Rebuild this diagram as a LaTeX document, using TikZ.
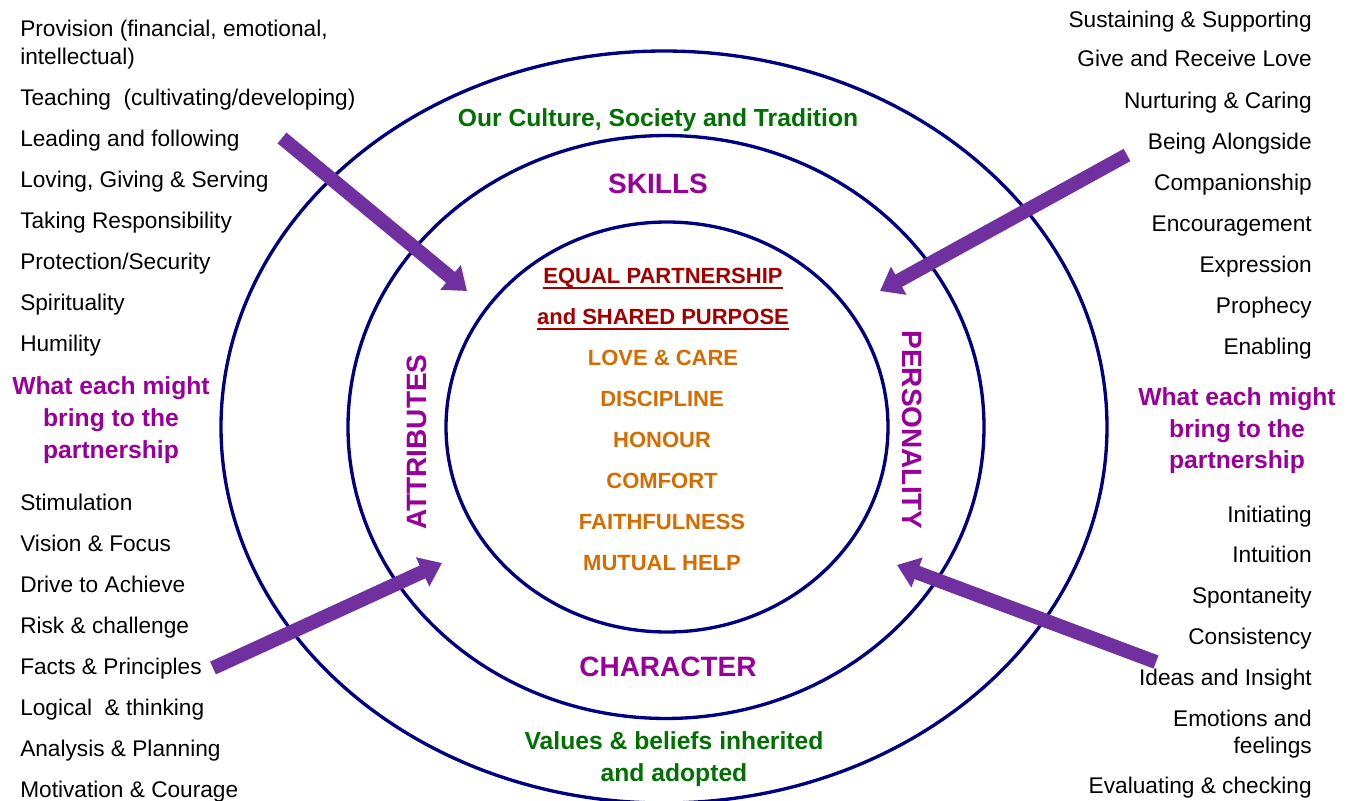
\documentclass[tikz,border=0pt]{standalone}
\usepackage{fontspec}
\setmainfont{Liberation Sans}
\usetikzlibrary{arrows.meta}
\definecolor{ringblue}{RGB}{0,0,128}
\definecolor{arrowpurple}{RGB}{112,48,160}
\definecolor{headpurple}{RGB}{153,0,153}
\definecolor{deepred}{RGB}{160,0,0}
\definecolor{valorange}{RGB}{214,108,0}
\definecolor{darkgreen}{RGB}{0,112,0}
\tikzset{
  ring/.style={draw=ringblue, line width=2.5pt},
  bigarrow/.style={draw=arrowpurple, line width=10.5pt, -{Triangle[width=23pt,length=16pt]}},
  item/.style={font=\fontsize{17}{20}\selectfont, inner sep=0pt, text=black},
  lefttext/.style={item, anchor=base west},
  righttext/.style={item, anchor=base east},
  bring/.style={font=\bfseries\fontsize{18.5}{24}\selectfont, text=headpurple, inner sep=0pt, anchor=base},
  layer/.style={font=\bfseries\fontsize{21}{25}\selectfont, text=headpurple, inner sep=0pt},
  frame/.style={font=\bfseries\fontsize{18.5}{24}\selectfont, text=darkgreen, inner sep=0pt, anchor=base},
  core/.style={font=\bfseries\fontsize{16.5}{20}\selectfont, text=deepred, inner sep=0pt, anchor=base},
  value/.style={font=\bfseries\fontsize{16.5}{20}\selectfont, text=valorange, inner sep=0pt, anchor=base},
}
\begin{document}
\begin{tikzpicture}[x=0.75pt,y=-0.75pt]
\useasboundingbox (0,0) rectangle (1357,800);
\fill[white] (0,0) rectangle (1357,800);

% rings
\draw[ring] (664,427) ellipse [x radius=332.25pt, y radius=282pt];
\draw[ring] (666,427) ellipse [x radius=238.5pt, y radius=218.6pt];
\draw[ring] (667,427) ellipse [x radius=165.75pt, y radius=153.75pt];

% left list
\node[lefttext] (l1) at (20,36) {Provision (financial, emotional,};
\node[lefttext] (l2) at (20,64) {intellectual)};
\node[lefttext] (l3) at (20,105) {Teaching\ \ (cultivating/developing)};
\node[lefttext] (l4) at (20,146) {Leading and following};
\node[lefttext] (l5) at (20,187) {Loving, Giving \& Serving};
\node[lefttext] (l6) at (20,228) {Taking Responsibility};
\node[lefttext] (l7) at (20,269) {Protection/Security};
\node[lefttext] (l8) at (20,310) {Spirituality};
\node[lefttext] (l9) at (20,351) {Humility};
\node[bring] (lb1) at (111,394) {What each might};
\node[bring] (lb2) at (111,426) {bring to the};
\node[bring] (lb3) at (111,458) {partnership};
\node[lefttext] (l10) at (20,510) {Stimulation};
\node[lefttext] (l11) at (20,551) {Vision \& Focus};
\node[lefttext] (l12) at (20,592) {Drive to Achieve};
\node[lefttext] (l13) at (20,633) {Risk \& challenge};
\node[lefttext] (l14) at (20,674) {Facts \& Principles};
\node[lefttext] (l15) at (20,715) {Logical\ \ \& thinking};
\node[lefttext] (l16) at (20,756) {Analysis \& Planning};
\node[lefttext] (l17) at (20,797) {Motivation \& Courage};

% right list
\node[righttext] (r1) at (1312,27) {Sustaining \& Supporting};
\node[righttext] (r2) at (1312,66) {Give and Receive Love};
\node[righttext] (r3) at (1312,108) {Nurturing \& Caring};
\node[righttext] (r4) at (1312,149) {Being Alongside};
\node[righttext] (r5) at (1312,190) {Companionship};
\node[righttext] (r6) at (1312,231) {Encouragement};
\node[righttext] (r7) at (1312,272) {Expression};
\node[righttext] (r8) at (1312,313) {Prophecy};
\node[righttext] (r9) at (1312,354) {Enabling};
\node[bring] (rb1) at (1237,405) {What each might};
\node[bring] (rb2) at (1237,437) {bring to the};
\node[bring] (rb3) at (1237,468) {partnership};
\node[righttext] (r10) at (1312,522) {Initiating};
\node[righttext] (r11) at (1312,562) {Intuition};
\node[righttext] (r12) at (1312,603) {Spontaneity};
\node[righttext] (r13) at (1312,644) {Consistency};
\node[righttext] (r14) at (1312,685) {Ideas and Insight};
\node[righttext] (r15) at (1312,726) {Emotions and};
\node[righttext] (r16) at (1312,753) {feelings};
\node[righttext] (r17) at (1312,793) {Evaluating \& checking};

% ring labels
\node[frame] (culture) at (658,126) {Our Culture, Society and Tradition};
\node[layer, anchor=base] (skills) at (658,193) {SKILLS};
\node[layer, anchor=base] (character) at (668,676) {CHARACTER};
\node[layer, rotate=90] (attributes) at (417,442) {ATTRIBUTES};
\node[layer, rotate=-90] (personality) at (912,430) {PERSONALITY};
\node[frame] (values1) at (674,749) {Values \& beliefs inherited};
\node[frame] (values2) at (674,781) {and adopted};

% core
\node[core] (c1) at (663,283) {EQUAL PARTNERSHIP};
\node[core] (c2) at (663,324) {and SHARED PURPOSE};
\draw[deepred, line width=1.6pt] ([yshift=-3.5pt]c1.base west) -- ([yshift=-3.5pt]c1.base east);
\draw[deepred, line width=1.6pt] ([yshift=-3.5pt]c2.base west) -- ([yshift=-3.5pt]c2.base east);
\node[value] (v1) at (663,365) {LOVE \& CARE};
\node[value] (v2) at (662,406) {DISCIPLINE};
\node[value] (v3) at (662,447) {HONOUR};
\node[value] (v4) at (662,488) {COMFORT};
\node[value] (v5) at (662,529) {FAITHFULNESS};
\node[value] (v6) at (662,570) {MUTUAL HELP};

% arrows
\coordinate (a1s) at (282,138);
\coordinate (a1e) at (467,291);
\coordinate (a2s) at (1127,155);
\coordinate (a2e) at (880,291);
\coordinate (a3s) at (213,668);
\coordinate (a3e) at (442,563);
\coordinate (a4s) at (1156,662);
\coordinate (a4e) at (897,565);
\draw[bigarrow] (a1s) -- (a1e);
\draw[bigarrow] (a2s) -- (a2e);
\draw[bigarrow] (a3s) -- (a3e);
\draw[bigarrow] (a4s) -- (a4e);
\end{tikzpicture}
\end{document}
